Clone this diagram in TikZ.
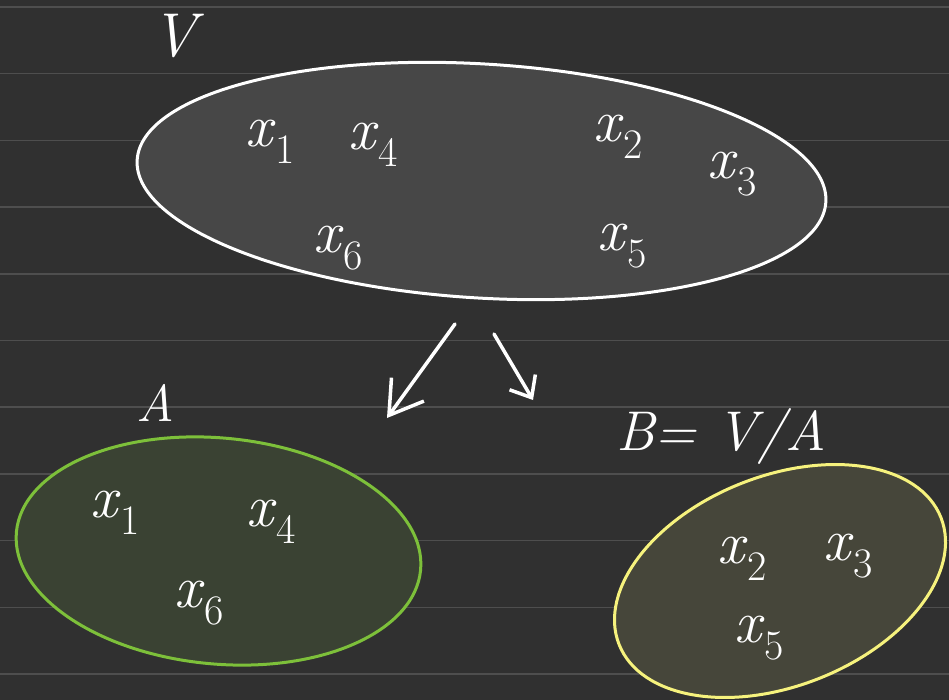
\documentclass[tikz,border=0pt]{standalone}
\usepackage{fontspec}
\usetikzlibrary{arrows.meta}
\definecolor{bg}{HTML}{303030}
\definecolor{rule}{HTML}{4E4E4E}
\definecolor{vfill}{HTML}{474747}
\definecolor{afill}{HTML}{3A4233}
\definecolor{aline}{HTML}{7DC03A}
\definecolor{bfill}{HTML}{46463A}
\definecolor{bline}{HTML}{F6F27D}
\newcommand{\elem}[1]{\textit{x}\raisebox{-0.28em}{\fontsize{42}{42}\selectfont #1}}
\tikzset{
  hand/.style={text=white, inner sep=0pt, font=\fontsize{60}{60}\selectfont},
  lbl/.style={text=white, inner sep=0pt, font=\fontsize{62}{62}\selectfont\itshape},
  setV/.style={draw=white, fill=vfill, line width=3pt},
  setA/.style={draw=aline, fill=afill, line width=3pt},
  setB/.style={draw=bline, fill=bfill, line width=3pt},
  arrbig/.style={draw=white, line width=3.5pt, line cap=round, -{Straight Barb[length=32pt, width=40pt, line width=3.5pt]}},
  arrsmall/.style={draw=white, line width=3.5pt, line cap=round, -{Straight Barb[length=18pt, width=30pt, line width=3.5pt]}}
}
\begin{document}
\begin{tikzpicture}[x=1pt, y=-1pt]
\fill[bg] (0,0) rectangle (949,700);
\useasboundingbox (0,0) rectangle (949,700);
\foreach \k in {0,...,10} {
  \draw[rule, line width=1.5pt] (0,{7+66.7*\k}) -- (949,{7+66.7*\k});
}
% sets
\draw[setV] (481.5,181) ellipse [x radius=345, y radius=117, rotate=-3.5];
\draw[setA] (218.5,551) ellipse [x radius=203, y radius=113, rotate=-5.4];
\draw[setB] (780,581) ellipse [x radius=173, y radius=105, rotate=21.5];
% labels
\node[lbl] (lV) at (174,36) {V};
\node[lbl, font=\fontsize{52}{52}\selectfont\itshape] (lA) at (155,403) {A};
\node[lbl, font=\fontsize{56}{56}\selectfont\itshape] (lB) at (721,436) {B= V/A};
% V elements
\node[hand] (v1) at (270,142) {\elem{1}};
\node[hand] (v4) at (373,145) {\elem{4}};
\node[hand] (v2) at (618,137) {\elem{2}};
\node[hand] (v3) at (732,174) {\elem{3}};
\node[hand] (v6) at (338,248) {\elem{6}};
\node[hand] (v5) at (622,246) {\elem{5}};
% A elements
\node[hand] (a1) at (115,513) {\elem{1}};
\node[hand] (a4) at (271,522) {\elem{4}};
\node[hand] (a6) at (199,603) {\elem{6}};
% B elements
\node[hand] (b2) at (742,559) {\elem{2}};
\node[hand] (b3) at (848,556) {\elem{3}};
\node[hand] (b5) at (759,638) {\elem{5}};
% arrows
\coordinate (s1) at (455,324);
\coordinate (e1) at (387,418);
\coordinate (s2) at (494,334);
\coordinate (e2) at (533,400);
\draw[arrbig] (s1) -- (e1);
\draw[arrsmall] (s2) -- (e2);
\end{tikzpicture}
\end{document}
